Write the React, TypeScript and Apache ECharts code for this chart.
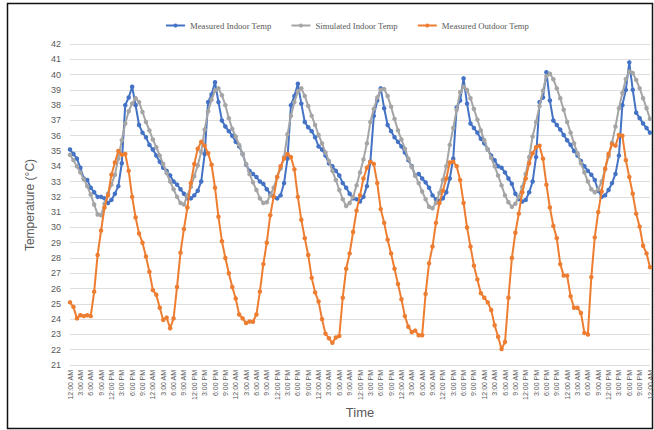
import { useEffect, useRef } from "react";
import * as echarts from "echarts";

// Hourly category labels for one day; the axis repeats them for every day of the week.
const hourLabels = [
  "12:00 AM", "1:00 AM", "2:00 AM", "3:00 AM", "4:00 AM", "5:00 AM",
  "6:00 AM", "7:00 AM", "8:00 AM", "9:00 AM", "10:00 AM", "11:00 AM",
  "12:00 PM", "1:00 PM", "2:00 PM", "3:00 PM", "4:00 PM", "5:00 PM",
  "6:00 PM", "7:00 PM", "8:00 PM", "9:00 PM", "10:00 PM", "11:00 PM",
];
const dayCount = 7;
const timeCategories = [
  ...Array.from({ length: dayCount }, () => hourLabels).flat(),
  hourLabels[0],
];

const seriesNames = [
  "Measured Indoor Temp",
  "Simulated Indoor Temp",
  "Measured Outdoor Temp",
];
const seriesColors = ["#4472C4", "#A5A5A5", "#ED7D31"];

const yTicks = { min: 21, max: 42, step: 1 };

// Hourly readings, °C (one row per day, the last row closes at midnight)
const measuredIndoor = [
  35.1, 34.8, 34.5, 33.9, 33.2, 33.1, 32.6, 32.3, 32.0, 32.0, 31.9, 31.6, 31.8, 32.2, 32.7, 34.2, 38.0, 38.5, 39.2, 38.0, 36.7, 36.2, 35.9, 35.4,
  35.1, 34.7, 34.3, 33.9, 33.7, 33.4, 33.0, 32.8, 32.5, 32.2, 31.9, 31.9, 32.1, 32.4, 33.0, 34.8, 38.2, 38.7, 39.5, 38.2, 37.0, 36.6, 36.3, 36.0,
  35.6, 35.3, 34.8, 34.1, 33.7, 33.5, 33.3, 33.0, 32.85, 32.5, 32.2, 32.0, 31.9, 32.1, 32.9, 34.5, 38.0, 38.6, 39.4, 38.1, 36.9, 36.55, 36.3, 35.9,
  35.3, 35.1, 34.7, 34.2, 34.0, 33.7, 33.4, 32.9, 32.6, 32.2, 31.9, 31.85, 31.7, 32.0, 32.7, 34.3, 37.3, 38.3, 39.1, 37.8, 36.7, 36.3, 35.9, 35.6,
  35.3, 34.9, 34.4, 34.0, 33.4, 33.5, 33.2, 32.95, 32.6, 32.1, 31.85, 31.75, 31.9, 32.3, 33.2, 34.5, 37.85, 38.3, 39.75, 38.1, 36.8, 36.5, 36.2, 35.8,
  35.5, 35.1, 34.7, 34.4, 34.0, 33.9, 33.6, 33.2, 32.85, 32.2, 31.85, 31.7, 31.8, 32.3, 33.0, 34.6, 38.2, 38.5, 40.15, 38.3, 37.0, 36.7, 36.4, 36.05,
  35.7, 35.4, 35.0, 34.7, 34.35, 34.0, 33.7, 33.45, 33.1, 32.4, 32.0, 32.1, 32.45, 32.9, 33.5, 34.7, 38.0, 39.0, 40.8, 39.0, 37.5, 37.15, 36.8, 36.5,
  36.2,
];

const simulatedIndoor = [
  34.75, 34.4, 34.0, 33.6, 33.15, 32.7, 32.15, 31.5, 30.85, 30.8, 31.55, 32.2, 32.8, 33.45, 34.5, 35.7, 36.8, 37.6, 38.1, 38.45, 38.2, 37.55, 36.9, 36.35,
  35.75, 35.25, 34.7, 34.15, 33.55, 33.0, 32.5, 32.0, 31.6, 31.5, 32.1, 32.65, 33.35, 34.05, 34.95, 36.4, 37.6, 38.35, 38.95, 39.1, 38.65, 38.0, 37.15, 36.45,
  35.95, 35.4, 34.8, 34.15, 33.5, 32.95, 32.45, 31.9, 31.6, 31.65, 32.1, 32.6, 33.3, 33.85, 34.6, 36.1, 37.3, 38.2, 38.9, 39.1, 38.6, 37.95, 37.3, 36.7,
  36.05, 35.5, 34.9, 34.35, 33.7, 33.1, 32.45, 31.85, 31.4, 31.6, 32.0, 32.75, 33.6, 34.45, 35.5, 36.9, 37.75, 38.5, 39.0, 39.05, 38.6, 37.9, 37.1, 36.35,
  35.75, 35.15, 34.5, 33.95, 33.4, 32.9, 32.35, 31.85, 31.35, 31.25, 31.6, 32.25, 33.1, 34.0, 35.4, 36.5, 37.7, 38.85, 39.2, 39.0, 38.45, 37.75, 37.05, 36.35,
  35.7, 35.1, 34.55, 34.0, 33.4, 32.75, 32.1, 31.65, 31.35, 31.55, 32.0, 32.65, 33.5, 34.6, 35.95, 36.9, 37.95, 38.95, 39.9, 40.05, 39.7, 39.1, 38.45, 37.7,
  36.9, 36.2, 35.5, 34.85, 34.2, 33.6, 33.0, 32.5, 32.3, 32.5, 33.0, 33.8, 34.65, 35.55, 36.6, 37.8, 38.8, 39.7, 40.2, 40.1, 39.65, 39.1, 38.45, 37.8,
  37.1,
];

const measuredOutdoor = [
  25.1, 24.8, 24.05, 24.25, 24.2, 24.25, 24.2, 25.8, 28.2, 29.8, 31.3, 32.1, 33.45, 34.25, 35.0, 34.75, 34.8, 33.7, 32.0, 30.65, 29.6, 29.0, 28.1, 27.1,
  25.9, 25.6, 24.75, 23.95, 24.1, 23.4, 24.05, 26.1, 28.35, 29.9, 31.3, 32.9, 34.15, 35.15, 35.6, 35.35, 34.85, 34.1, 32.6, 30.7, 29.1, 28.0, 27.0, 26.1,
  25.35, 24.3, 24.05, 23.75, 23.85, 23.83, 24.3, 25.8, 27.6, 29.0, 30.8, 32.0, 33.3, 34.0, 34.5, 34.8, 34.6, 33.8, 32.0, 30.5, 29.3, 28.2, 26.7, 25.75,
  25.15, 24.0, 23.05, 22.75, 22.45, 22.8, 22.9, 25.4, 27.3, 28.3, 29.7, 31.1, 32.1, 33.2, 33.9, 34.3, 34.15, 32.9, 31.2, 30.3, 29.2, 28.3, 27.3, 26.3,
  25.3, 24.2, 23.5, 23.15, 23.25, 22.95, 22.95, 25.65, 27.65, 28.75, 30.3, 31.6, 32.4, 33.2, 34.25, 34.3, 34.0, 33.1, 31.6, 30.0, 28.75, 27.5, 26.6, 25.7,
  25.4, 25.1, 24.6, 23.6, 22.85, 22.05, 22.5, 25.4, 28.0, 29.65, 30.9, 32.3, 33.2, 34.2, 34.85, 35.25, 35.35, 34.5, 32.8, 31.3, 30.1, 29.3, 27.6, 26.85,
  26.85, 25.5, 24.75, 24.75, 24.4, 23.1, 23.0, 26.75, 29.35, 31.0, 32.35, 33.85, 34.8, 35.45, 35.35, 36.05, 36.0, 34.4, 33.3, 32.2, 30.9, 30.05, 28.8, 28.3,
  27.4,
];

const seriesValues = [measuredIndoor, simulatedIndoor, measuredOutdoor];

const axisTextColor = "#595959";

export default function App() {
  const chartRef = useRef<HTMLDivElement>(null);

  useEffect(() => {
    if (!chartRef.current) return;
    const chart = echarts.init(chartRef.current, undefined, { renderer: "svg" });

    chart.setOption({
      animation: false,
      backgroundColor: "#ffffff",
      textStyle: { fontFamily: "Liberation Sans" },
      grid: { left: 70, right: 4, top: 44, bottom: 65 },
      legend: {
        top: 16,
        left: 160,
        itemWidth: 19,
        itemHeight: 5,
        itemGap: 19,
        textStyle: {
          fontFamily: "Liberation Serif",
          fontSize: 8.7,
          color: axisTextColor,
        },
        data: seriesNames,
      },
      xAxis: {
        type: "category",
        data: timeCategories,
        boundaryGap: false,
        axisLine: { show: false },
        axisTick: { show: false },
        splitLine: { show: false },
        axisLabel: {
          interval: 2,
          rotate: 90,
          fontSize: 7,
          color: axisTextColor,
          margin: 5,
        },
      },
      yAxis: {
        type: "value",
        min: yTicks.min,
        max: yTicks.max,
        interval: yTicks.step,
        axisLine: { show: false },
        axisTick: { show: false },
        axisLabel: { fontSize: 9, color: axisTextColor, margin: 9 },
        splitLine: { lineStyle: { color: "#dedede", width: 1 } },
      },
      series: seriesNames.map((name, i) => ({
        name,
        type: "line",
        data: seriesValues[i],
        symbol: "circle",
        symbolSize: 4.5,
        showSymbol: true,
        showAllSymbol: true,
        color: seriesColors[i],
        lineStyle: { width: 2, color: seriesColors[i] },
        itemStyle: { color: seriesColors[i] },
        z: 2 + i,
      })),
      graphic: [
        {
          type: "rect",
          shape: { x: 7.5, y: 3.5, width: 645, height: 425 },
          style: { fill: "none", stroke: "#111111", lineWidth: 1.5 },
          silent: true,
        },
        {
          type: "text",
          x: 30,
          y: 205,
          rotation: Math.PI / 2,
          style: {
            text: "Temperature (°C)",
            fontFamily: "Liberation Sans",
            fontSize: 12,
            fill: axisTextColor,
            align: "center",
            verticalAlign: "middle",
          },
        },
        {
          type: "text",
          x: 360,
          y: 412,
          style: {
            text: "Time",
            fontFamily: "Liberation Sans",
            fontSize: 13,
            fill: axisTextColor,
            align: "center",
            verticalAlign: "middle",
          },
        },
      ],
    });

    return () => chart.dispose();
  }, []);

  return (
    <div
      ref={chartRef}
      style={{ position: "fixed", left: 0, top: 0, width: 654, height: 430 }}
    />
  );
}
